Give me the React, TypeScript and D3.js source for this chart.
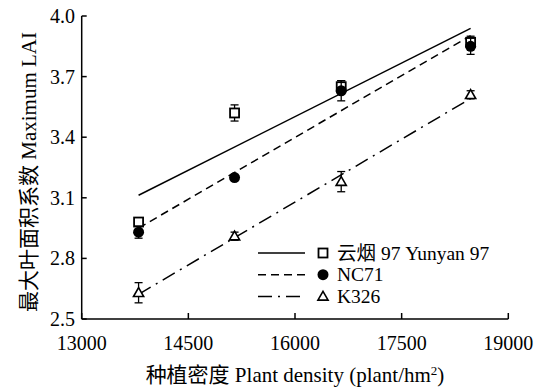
import React from 'react'
import * as d3 from 'd3'

// plant density (plant/hm2)
const densities = [13800, 15150, 16650, 18470]

const yunyan97 = [2.98, 3.52, 3.65, 3.87]
const yunyan97Err = [0.02, 0.04, 0.03, 0.03]
const nc71 = [2.93, 3.20, 3.63, 3.85]
const nc71Err = [0.03, 0.01, 0.05, 0.04]
const k326 = [2.63, 2.91, 3.18, 3.61]
const k326Err = [0.05, 0.02, 0.05, 0.02]

const xTicks = [13000, 14500, 16000, 17500, 19000]
const yTicks = [2.5, 2.8, 3.1, 3.4, 3.7, 4.0]

const seriesNames = ['云烟 97 Yunyan 97', 'NC71', 'K326']

const W = 537
const H = 390
const margin = { left: 81.7, right: 28.7, top: 16, bottom: 71 }
const font = "'Liberation Serif', 'Times New Roman', 'Noto Sans CJK SC', serif"
const tickTxt = { fontFamily: font, fontSize: 20 }
const txt = { fontFamily: font, fontSize: 21 }
const legendTxt = { fontFamily: font, fontSize: 19.5 }

function fitLine(xs: number[], ys: number[]) {
  const mx = d3.mean(xs) as number
  const my = d3.mean(ys) as number
  let sxy = 0
  let sxx = 0
  xs.forEach((x, i) => {
    sxy += (x - mx) * (ys[i] - my)
    sxx += (x - mx) * (x - mx)
  })
  const b = sxy / sxx
  return (x: number) => my + b * (x - mx)
}

export default function App() {
  const x = d3.scaleLinear().domain([13000, 19000]).range([margin.left, W - margin.right])
  const y = d3.scaleLinear().domain([2.5, 4.0]).range([H - margin.bottom, margin.top])

  const series = [
    { name: seriesNames[0], vals: yunyan97, err: yunyan97Err, dash: 'none', marker: 'square' },
    { name: seriesNames[1], vals: nc71, err: nc71Err, dash: '8,5', marker: 'circle' },
    { name: seriesNames[2], vals: k326, err: k326Err, dash: '14,6,2,6', marker: 'triangle' },
  ]

  const line = d3.line<number>().x(d => x(d[0])).y(d => y(d[1]))

  const marker = (type: string, cx: number, cy: number, key: string) => {
    if (type === 'square') {
      return <rect key={key} x={cx - 4.5} y={cy - 4.5} width={9} height={9} fill="#fff" stroke="#000" strokeWidth={1.8} />
    }
    if (type === 'circle') {
      return <circle key={key} cx={cx} cy={cy} r={5.5} fill="#000" />
    }
    const tri = d3.symbol().type(d3.symbolTriangle).size(45)()
    return <path key={key} d={tri as string} transform={`translate(${cx},${cy + 0.8})`} fill="#fff" stroke="#000" strokeWidth={1.6} />
  }

  const y0 = H - margin.bottom

  return (
    <svg width={W} height={H} style={{ position: 'absolute', left: 0, top: 0 }}>
      <rect width={W} height={H} fill="#fff" />

      {/* regression lines */}
      {series.map((s, i) => {
        const f = fitLine(densities, s.vals)
        const x0 = densities[0]
        const x1 = densities[densities.length - 1]
        return (
          <path key={'fit' + i} d={line([[x0, f(x0)], [x1, f(x1)]] as any) as string}
            fill="none" stroke="#000" strokeWidth={1.5} strokeDasharray={s.dash} />
        )
      })}

      {/* error bars + markers */}
      {series.map((s, i) => (
        <g key={'pts' + i}>
          {s.vals.map((v, j) => {
            const cx = x(densities[j])
            const top = y(v + s.err[j])
            const bot = y(v - s.err[j])
            return (
              <g key={j}>
                <line x1={cx} x2={cx} y1={top} y2={bot} stroke="#000" strokeWidth={1.3} />
                <line x1={cx - 4} x2={cx + 4} y1={top} y2={top} stroke="#000" strokeWidth={1.3} />
                <line x1={cx - 4} x2={cx + 4} y1={bot} y2={bot} stroke="#000" strokeWidth={1.3} />
                {marker(s.marker, cx, y(v), 'm' + j)}
              </g>
            )
          })}
        </g>
      ))}

      {/* axes */}
      <line x1={margin.left} x2={W - margin.right} y1={y0} y2={y0} stroke="#000" strokeWidth={1.5} />
      <line x1={margin.left} x2={margin.left} y1={margin.top} y2={y0} stroke="#000" strokeWidth={1.5} />
      {xTicks.map(t => (
        <g key={'xt' + t}>
          <line x1={x(t)} x2={x(t)} y1={y0} y2={y0 - 6} stroke="#000" strokeWidth={1.5} />
          <text x={x(t)} y={350} style={tickTxt} textAnchor="middle">{t}</text>
        </g>
      ))}
      {yTicks.map(t => (
        <g key={'yt' + t}>
          <line x1={margin.left} x2={margin.left + 5} y1={y(t)} y2={y(t)} stroke="#000" strokeWidth={1.5} />
          <text x={75} y={y(t) + 7} style={tickTxt} textAnchor="end">{t.toFixed(1)}</text>
        </g>
      ))}

      {/* axis titles */}
      <text x={(margin.left + W - margin.right) / 2} y={382} style={txt} textAnchor="middle">
        种植密度 Plant density (plant/hm<tspan dy={-7} style={{ fontSize: 13 }}>2</tspan><tspan dy={7}>)</tspan>
      </text>
      <text transform={`translate(36,172) rotate(-90)`} style={txt} textAnchor="middle">
        最大叶面积系数 Maximum LAI
      </text>

      {/* legend */}
      {series.map((s, i) => {
        const ly = 253 + i * 21.7
        return (
          <g key={'lg' + i}>
            <line x1={258} x2={305} y1={ly} y2={ly} stroke="#000" strokeWidth={1.5} strokeDasharray={s.dash} />
            {marker(s.marker, 323, ly, 'lm')}
            <text x={337} y={ly + 6.5} style={legendTxt}>{s.name}</text>
          </g>
        )
      })}
    </svg>
  )
}
